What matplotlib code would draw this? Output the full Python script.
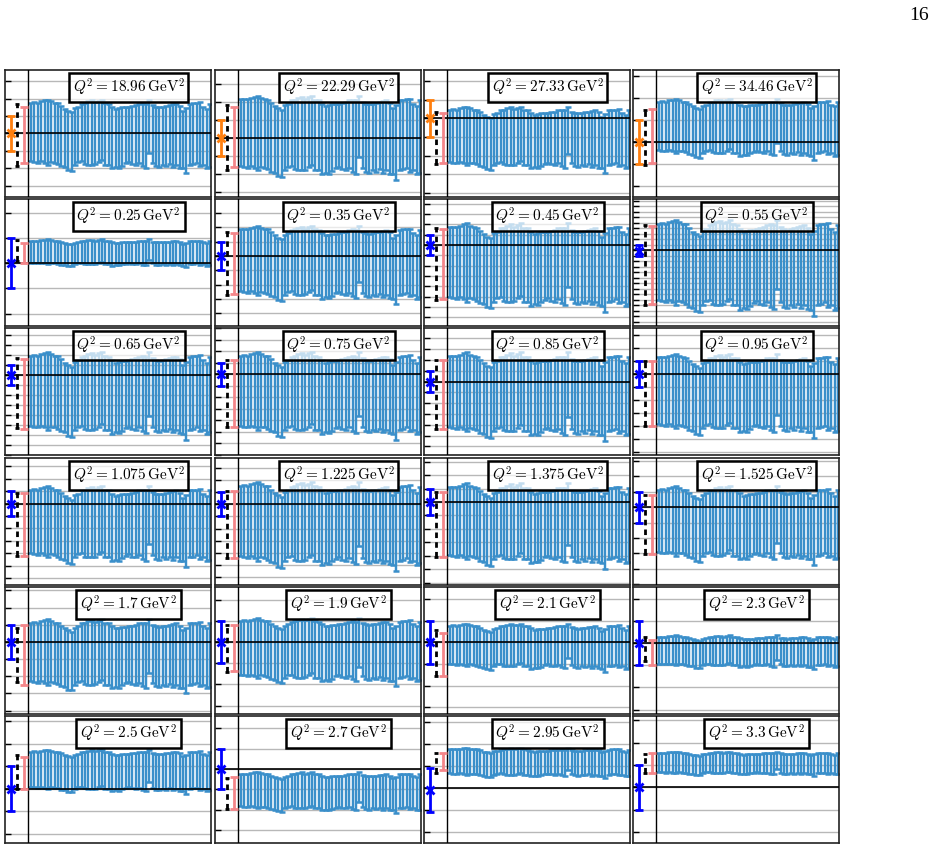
import numpy as np
import matplotlib
matplotlib.use("Agg")
import matplotlib.pyplot as plt
from matplotlib.ticker import MultipleLocator

plt.rcParams["mathtext.fontset"] = "cm"

# Q^2 values of the 24 panels (row by row)
Q2_LABELS = ["18.96", "22.29", "27.33", "34.46",
             "0.25", "0.35", "0.45", "0.55",
             "0.65", "0.75", "0.85", "0.95",
             "1.075", "1.225", "1.375", "1.525",
             "1.7", "1.9", "2.1", "2.3",
             "2.5", "2.7", "2.95", "3.3"]

# y range of each panel, in units of the reference error
Y_LO = [-3.66, -3.28, -4.21, -2.50, -2.49, -4.90, -7.86, -13.8, -8.00, -7.04, -6.80, -6.20,
        -6.56, -6.67, -6.18, -5.05, -4.20, -3.40, -3.30, -3.20, -2.40, -3.64, -2.50, -2.50]
Y_HI = [3.64, 3.78, 2.58, 3.27, 2.55, 3.99, 4.47, 9.30, 4.70, 4.00, 4.97, 3.56,
        3.68, 3.83, 3.28, 3.18, 3.20, 2.60, 2.56, 2.55, 3.24, 2.61, 3.27, 3.20]

# reference point (blue, orange in the first row)
REF_Y = [0.0, 0.0, 0.0, 0.0, 0.0, 0.0, 0.0, -0.1, 0.0, 0.0, 0.0, 0.0,
         0.0, 0.0, 0.0, 0.0, 0.0, 0.0, 0.0, 0.0, 0.0, 0.0, -0.1, 0.0]
REF_ERR = [1.0] * 24

# black dashed range
DASH_LO = [-1.86, -1.78, -2.46, -1.05, 0.07, -2.73, -5.34, -9.9, -5.33, -4.63, -4.40, -4.00,
           -4.20, -4.40, -4.13, -3.05, -2.35, -1.40, -1.53, -0.80, 0.00, -1.97, 0.70, 0.65]
DASH_HI = [1.67, 1.83, 0.35, 1.45, 0.93, 1.71, 1.62, 4.5, 1.67, 1.22, 2.00, 1.00,
           0.87, 1.08, 0.75, 0.80, 0.80, 0.80, 0.56, 0.30, 1.50, -0.43, 1.60, 1.50]

# salmon range
SAL_LO = [-1.72, -1.60, -2.37, -0.95, 0.00, -2.68, -5.27, -9.8, -5.43, -4.63, -4.40, -4.00,
          -4.20, -4.40, -4.13, -3.05, -2.50, -1.35, -1.53, -1.00, 0.00, -1.97, 0.80, 0.63]
SAL_HI = [1.53, 1.72, 0.27, 1.50, 0.82, 1.59, 1.52, 4.4, 1.57, 1.22, 2.00, 1.00,
          0.87, 1.08, 0.75, 0.80, 1.00, 0.80, 0.42, 0.15, 1.40, -0.38, 1.60, 1.52]

# typical lower / upper end of the blue error bars
BAND_LO = [-1.82, -1.80, -2.50, -0.50, -0.04, -2.73, -5.50, -10.0, -5.50, -4.87, -4.60, -4.15,
           -4.34, -4.67, -4.26, -3.16, -2.50, -1.70, -1.10, -1.00, 0.00, -1.94, 0.60, 0.63]
BAND_HI = [1.62, 2.00, 0.35, 1.75, 0.86, 1.71, 1.46, 4.2, 1.67, 1.36, 2.10, 1.10,
           0.94, 1.30, 0.90, 0.98, 1.00, 0.90, 0.70, 0.25, 1.60, -0.30, 1.72, 1.52]

# bar ends (pixel rows), same pattern in every panel
BAR_TOP_PX = [97, 95, 97, 92, 88, 85, 92, 97, 98, 108, 118, 125, 130, 115, 110, 100, 98, 92,
              88, 95, 90, 85, 98, 100, 110, 118, 115, 112, 112, 110, 108, 105, 100, 98, 100, 85,
              105, 110, 112, 110, 108, 105, 102, 100, 108, 125, 115, 100, 98, 97, 95, 110, 118, 100]
BAR_BOT_PX = [305, 308, 310, 305, 310, 318, 308, 310, 315, 322, 325, 335, 338, 318, 308, 305, 315, 318,
              318, 316, 308, 300, 318, 318, 330, 325, 328, 320, 312, 308, 315, 318, 310, 322, 328, 275,
              310, 322, 325, 318, 322, 315, 325, 318, 328, 330, 348, 318, 315, 310, 322, 318, 330, 325]
PX_TOP_REF, PX_BOT_REF = 105, 318

COL_LEFT = [5, 215, 424, 633]
ROW_TOP = [70, 199, 328, 458, 587, 716]
PANEL_W, PANEL_H = 206, 127
FIG_W, FIG_H = 933, 851

BAR_COLOR = "#3a8fca"
SALMON = "#f4868a"


def main() -> None:
    fig = plt.figure(figsize=(FIG_W / 100, FIG_H / 100), dpi=100)
    fig.text(0.996, 0.982, "16", ha="right", va="center", fontsize=14,
             family="Liberation Serif")

    top_px = np.array(BAR_TOP_PX, dtype=float)
    bot_px = np.array(BAR_BOT_PX, dtype=float)
    span = PX_BOT_REF - PX_TOP_REF
    top_frac = (PX_BOT_REF - top_px) / span
    bot_frac = (PX_BOT_REF - bot_px) / span
    xs = np.arange(len(BAR_TOP_PX))

    for k, label in enumerate(Q2_LABELS):
        r, c = divmod(k, 4)
        left = COL_LEFT[c] / FIG_W
        bottom = 1 - (ROW_TOP[r] + PANEL_H) / FIG_H
        ax = fig.add_axes([left, bottom, PANEL_W / FIG_W, PANEL_H / FIG_H])

        lo, hi = BAND_LO[k], BAND_HI[k]
        tops = lo + top_frac * (hi - lo)
        bots = lo + bot_frac * (hi - lo)
        ax.errorbar(xs, (tops + bots) / 2, yerr=(tops - bots) / 2, fmt="none",
                    ecolor=BAR_COLOR, elinewidth=1.75, capsize=2.5, capthick=1.8, zorder=2)

        ref_color = "#ff7f0e" if r == 0 else "#0000ff"
        ax.errorbar([-6.0], [REF_Y[k]], yerr=[REF_ERR[k]], fmt="x", color=ref_color,
                    ms=6, mew=2, elinewidth=2, capsize=3, capthick=2, zorder=4)

        dmid = (DASH_LO[k] + DASH_HI[k]) / 2
        dh = (DASH_HI[k] - DASH_LO[k]) / 2
        eb = ax.errorbar([-4.05], [dmid], yerr=[dh], fmt="none", ecolor="black",
                         elinewidth=2, capsize=1.5, capthick=2, zorder=4)
        eb[2][0].set_linestyle((0, (2, 1.5)))

        smid = (SAL_LO[k] + SAL_HI[k]) / 2
        sh = (SAL_HI[k] - SAL_LO[k]) / 2
        ax.errorbar([-2.1], [smid], yerr=[sh], fmt="none", ecolor=SALMON,
                    elinewidth=2, capsize=3, capthick=2, zorder=4)

        ax.axhline(0, color="black", lw=1.2, zorder=3)
        ax.axvline(-0.8, color="black", lw=1, zorder=3)

        ax.set_xlim(-7.7, 53.25)
        ax.set_ylim(Y_LO[k], Y_HI[k])
        ax.yaxis.set_major_locator(MultipleLocator(1))
        ax.set_xticks([])
        ax.tick_params(axis="y", direction="in", length=4, width=1, labelleft=False)
        ax.grid(axis="y", color="#b8b8b8", lw=1, zorder=0)
        ax.set_axisbelow(True)
        for sp in ax.spines.values():
            sp.set_linewidth(1.2)
            sp.set_color("#222222")

        ax.text(0.6, 0.86, rf"$Q^2 = {label}\,\mathrm{{GeV}}^2$", transform=ax.transAxes,
                ha="center", va="center", fontsize=11, zorder=5,
                bbox=dict(boxstyle="square,pad=0.25", facecolor=(1, 1, 1, 0.7),
                          edgecolor="black", linewidth=1.8))

    fig.savefig("out.png", dpi=100)
    plt.close(fig)


if __name__ == "__main__":
    main()
